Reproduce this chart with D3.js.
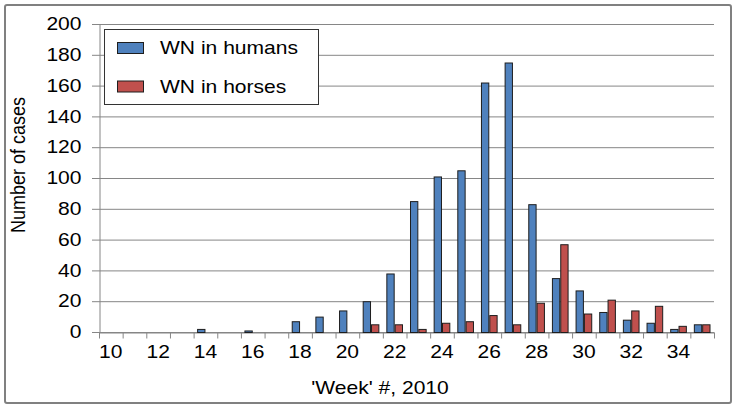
<!DOCTYPE html>
<html>
<head>
<meta charset="utf-8">
<script src="https://cdn.jsdelivr.net/npm/d3@7"></script>
<style>
  body { margin: 0; background: #fff; }
  text { font-family: "Liberation Sans", Arial, sans-serif; fill: #000; }
</style>
</head>
<body>
<div id="chart"></div>
<script>
// data
var weeks = d3.range(10, 36);
var humans = [0, 0, 0, 0, 2, 0, 1, 0, 7, 10, 14, 20, 38, 85, 101, 105, 162, 175, 83, 35, 27, 13, 8, 6, 2, 5];
var horses = [0, 0, 0, 0, 0, 0, 0, 0, 0, 0, 0, 5, 5, 2, 6, 7, 11, 5, 19, 57, 12, 21, 14, 17, 4, 5];
var seriesNames = ["WN in humans", "WN in horses"];
var seriesColors = ["#4f81bd", "#c0504d"];
var yTicks = d3.range(0, 201, 20);
var xLabels = d3.range(10, 36, 2);

var width = 739, height = 409;
var margin = { top: 24, right: 25, bottom: 77, left: 99 };
var innerW = width - margin.left - margin.right,
    innerH = height - margin.top - margin.bottom;

// text in the picture is a bit wide
var sx = 1.17;
var gridColor = "#868686";

var svg = d3.select("#chart")
    .append("svg")
    .attr("width", width)
    .attr("height", height);

// outer frame
svg.append("rect")
    .attr("x", 5).attr("y", 5)
    .attr("width", 726).attr("height", 398)
    .attr("rx", 2)
    .attr("fill", "#fff")
    .attr("stroke", "#808080")
    .attr("stroke-width", 2);

var g = svg.append("g")
    .attr("transform", "translate(" + margin.left + "," + margin.top + ")");

// scales
var xScale = d3.scaleBand()
    .domain(weeks)
    .range([0, innerW]);

var xEdge = d3.scaleLinear()
    .domain([10, 36])
    .range([0, innerW]);

var xSub = d3.scaleBand()
    .domain([0, 1])
    .range([0, xScale.bandwidth()])
    .paddingOuter(0.42);

var yScale = d3.scaleLinear()
    .domain([0, 200])
    .range([innerH, 0]);

// gridlines
g.selectAll(".grid")
    .data(yTicks)
    .enter()
    .append("line")
    .attr("class", "grid")
    .attr("x1", -7)
    .attr("x2", innerW)
    .attr("y1", d => yScale(d) + 0.5)
    .attr("y2", d => yScale(d) + 0.5)
    .attr("stroke", gridColor)
    .attr("stroke-width", 1);

// y axis
var yAxis = d3.axisLeft(yScale)
    .tickValues(yTicks)
    .tickSize(0)
    .tickPadding(0);

var yG = g.append("g")
    .attr("transform", "translate(0.5,0)")
    .call(yAxis);
yG.select(".domain").attr("stroke", gridColor);
yG.selectAll("text")
    .attr("x", -18 / sx)
    .attr("transform", "scale(" + sx + ",1)")
    .style("font-size", "18px")
    .style("font-family", "'Liberation Sans', Arial, sans-serif");

// x axis: ticks at week boundaries
var xTickAxis = d3.axisBottom(xEdge)
    .tickValues(d3.range(10, 37))
    .tickFormat("")
    .tickSize(6)
    .tickSizeOuter(0);

var xTG = g.append("g")
    .attr("transform", "translate(0," + (innerH + 0.5) + ")")
    .call(xTickAxis);
xTG.select(".domain").attr("stroke", gridColor);
xTG.selectAll("line").attr("stroke", gridColor);

// x axis labels at centres of even weeks
var xAxis = d3.axisBottom(xScale)
    .tickValues(xLabels)
    .tickSize(0);

var xG = g.append("g")
    .attr("transform", "translate(0," + innerH + ")")
    .call(xAxis);
xG.select(".domain").remove();
xG.selectAll("text")
    .attr("y", 13)
    .attr("transform", "scale(" + sx + ",1)")
    .style("font-size", "18px")
    .style("font-family", "'Liberation Sans', Arial, sans-serif");

// bars
var rows = weeks.map(function(w, i) {
    return { week: w, values: [humans[i], horses[i]] };
});

var groups = g.selectAll(".week")
    .data(rows)
    .enter()
    .append("g")
    .attr("class", "week")
    .attr("transform", d => "translate(" + xScale(d.week) + ",0)");

groups.selectAll("rect")
    .data(d => d.values.map((v, k) => ({ k: k, v: v })).filter(e => e.v > 0))
    .enter()
    .append("rect")
    .attr("x", d => xSub(d.k) + 0.5)
    .attr("y", d => yScale(d.v) + 0.5)
    .attr("width", xSub.bandwidth() - 1)
    .attr("height", d => innerH - yScale(d.v))
    .attr("fill", d => seriesColors[d.k])
    .attr("stroke", "#1e1e1e")
    .attr("stroke-width", 1);

// legend
var legend = svg.append("g");
legend.append("rect")
    .attr("x", 104.5).attr("y", 29.5)
    .attr("width", 214).attr("height", 75)
    .attr("fill", "#fff")
    .attr("stroke", "#333")
    .attr("stroke-width", 1);

seriesNames.forEach(function(name, i) {
    legend.append("rect")
        .attr("x", 117.5)
        .attr("y", 42.5 + i * 38.5)
        .attr("width", 26)
        .attr("height", 11)
        .attr("fill", seriesColors[i])
        .attr("stroke", "#1e1e1e");
    legend.append("text")
        .attr("transform", "translate(160," + (54 + i * 38.5) + ") scale(" + sx + ",1)")
        .style("font-size", "18px")
        .text(name);
});

// axis titles
svg.append("text")
    .attr("transform", "translate(380,394) scale(" + sx + ",1)")
    .style("text-anchor", "middle")
    .style("font-size", "18px")
    .text("'Week' #, 2010");

svg.append("text")
    .attr("transform", "translate(25,165) scale(" + sx + ",1) rotate(-90)")
    .style("text-anchor", "middle")
    .style("font-size", "18px")
    .text("Number of cases");
</script>
</body>
</html>
